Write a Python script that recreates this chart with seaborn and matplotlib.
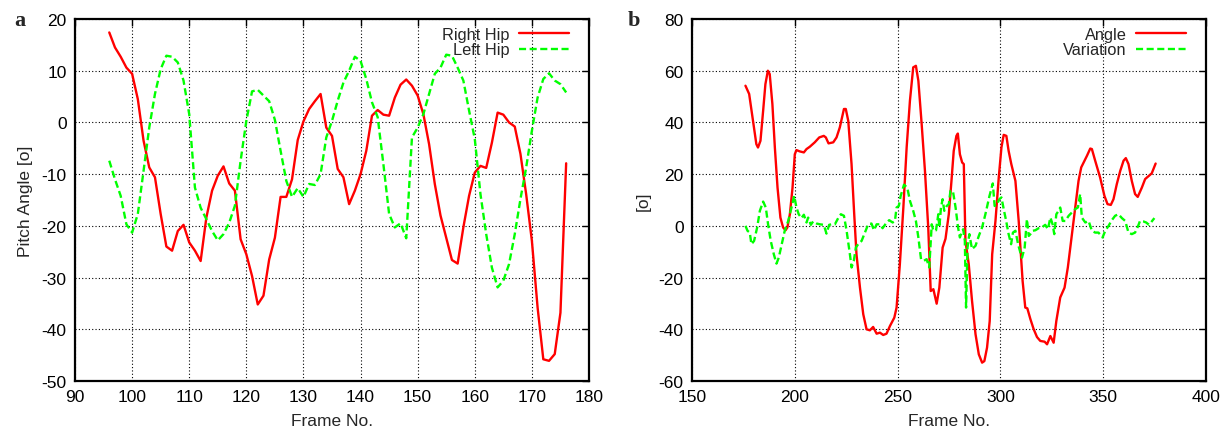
import numpy as np
import pandas as pd
import matplotlib
matplotlib.use("Agg")
import matplotlib.pyplot as plt
import seaborn as sns

# ---------------- Panel a data ----------------
frames_a = list(range(96, 177))
right_hip = [17.4, 14.5, 12.7, 10.6, 9.4, 4.5, -3.5, -8.7, -10.6, -17.7,
             -24.0, -24.8, -21.0, -19.8, -23.2, -24.8, -26.8, -18.4, -13.2, -10.3,
             -8.5, -11.8, -13.2, -22.6, -25.5, -29.7, -35.2, -33.5, -26.5, -22.3,
             -14.4, -14.4, -11.0, -3.4, 0.2, 2.6, 4.1, 5.5, -1.0, -2.6,
             -9.0, -10.6, -15.8, -13.2, -10.0, -5.5, 1.3, 2.4, 1.5, 1.3,
             4.8, 7.3, 8.3, 7.1, 5.2, 1.6, -4.2, -11.9, -18.0, -22.3,
             -26.6, -27.3, -20.3, -14.2, -9.7, -8.4, -8.8, -3.9, 1.9, 1.5,
             0.0, -0.8, -6.1, -13.9, -22.9, -35.8, -45.8, -46.1, -44.8, -36.8,
             -7.9]
left_hip = [-7.4, -11.0, -14.2, -19.7, -21.3, -17.7, -9.4, -1.0, 5.5, 10.3,
            12.9, 12.7, 11.6, 8.1, 1.6, -12.6, -16.5, -18.7, -21.0, -22.8,
            -21.6, -19.4, -16.1, -7.4, 0.3, 6.0, 6.3, 5.2, 4.1, 0.5,
            -5.5, -11.3, -14.4, -12.7, -14.4, -11.9, -12.1, -10.0, -2.9, 0.3,
            4.2, 7.7, 10.0, 12.7, 11.9, 8.4, 3.9, 1.0, -8.1, -17.7,
            -20.3, -19.5, -22.4, -2.9, -1.0, 1.6, 5.5, 9.4, 10.6, 13.1,
            12.9, 10.6, 8.1, 2.3, -3.2, -13.9, -21.6, -28.1, -31.9, -30.6,
            -27.4, -21.6, -14.8, -8.7, -1.6, 4.8, 8.4, 9.5, 8.1, 7.4,
            5.8]

# ---------------- Panel b data ----------------
angle_frames = [176.0, 177.8, 179.7, 181.3, 182.1, 183.3, 184.6, 185.7, 186.9, 187.8,
                189.1, 190.3, 191.6, 193.0, 194.3, 195.5, 196.4, 197.6, 198.9, 200.0,
                200.8, 202.4, 204.4, 205.7, 207.3, 209.7, 211.9, 214.1, 215.1, 216.4,
                218.7, 220.3, 221.9, 223.9, 224.8, 226.0, 227.6, 228.9, 230.0, 231.7,
                233.3, 234.9, 236.5, 238.1, 239.8, 241.4, 243.0, 244.6, 246.3, 248.4,
                249.5, 251.1, 252.8, 254.4, 256.0, 257.6, 258.9, 260.1, 261.7, 263.3,
                264.9, 266.1, 267.4, 269.0, 270.3, 271.9, 273.3, 274.9, 276.2, 277.3,
                278.6, 279.3, 280.3, 281.4, 282.2, 283.0, 284.6, 286.2, 287.9, 289.5,
                291.1, 292.2, 293.5, 294.8, 296.0, 297.6, 299.2, 300.5, 301.6, 302.9,
                304.0, 305.3, 307.3, 308.9, 310.8, 312.1, 313.1, 314.6, 316.2, 317.8,
                319.4, 321.5, 322.7, 324.3, 325.9, 327.2, 329.1, 331.2, 332.8, 334.8,
                336.4, 338.0, 339.3, 340.5, 342.1, 343.7, 344.5, 346.1, 348.5, 350.6,
                352.1, 353.7, 355.0, 356.6, 358.3, 359.9, 361.0, 362.3, 363.9, 365.5,
                366.8, 368.8, 370.4, 372.3, 373.6, 375.5]
angle_vals = [54.2, 51.0, 40.6, 31.6, 30.3, 32.9, 44.5, 54.8, 60.0, 58.7,
              47.1, 30.3, 14.8, 3.2, -0.6, -1.7, -0.6, 4.5, 14.8, 27.7,
              29.3, 28.8, 28.4, 29.7, 30.6, 32.3, 34.2, 34.8, 34.2, 31.9,
              32.3, 34.2, 38.1, 45.2, 45.2, 40.6, 23.9, 4.5, -11.0, -23.9,
              -34.2, -40.0, -40.4, -39.1, -41.7, -41.3, -42.2, -41.7, -38.7, -35.5,
              -31.6, -14.8, 7.1, 30.3, 48.4, 61.3, 61.9, 56.1, 39.4, 21.3,
              -0.6, -25.2, -24.5, -30.1, -23.9, -8.4, -5.0, 4.5, 17.4, 29.0,
              34.8, 35.7, 27.7, 24.5, 23.9, -5.8, -14.8, -29.0, -41.9, -49.7,
              -52.9, -52.3, -47.1, -36.8, -11.0, 1.9, 18.7, 30.3, 35.2, 34.8,
              29.0, 23.9, 17.4, 1.9, -21.3, -31.6, -31.9, -36.1, -40.0, -43.0,
              -44.5, -44.8, -45.8, -42.6, -45.2, -36.8, -27.7, -23.9, -16.1, -3.2,
              7.1, 17.4, 22.6, 24.5, 27.1, 29.9, 29.7, 25.2, 18.7, 11.6,
              8.4, 8.1, 10.3, 16.1, 21.3, 25.2, 26.2, 23.9, 17.4, 12.3,
              11.2, 14.8, 18.1, 19.4, 20.3, 24.1]

var_frames = [176.0, 177.0, 178.1, 178.9, 180.2, 181.7, 183.0, 184.6, 185.9, 187.0,
              188.3, 189.8, 191.1, 192.2, 193.5, 195.1, 196.8, 198.4, 199.7, 200.8,
              201.9, 203.2, 204.4, 205.7, 206.5, 207.8, 208.9, 210.6, 212.2, 214.1,
              215.4, 216.7, 217.9, 219.5, 221.1, 222.4, 223.9, 225.2, 226.8, 227.6,
              228.7, 229.7, 230.8, 232.5, 234.1, 235.7, 237.3, 238.5, 239.8, 241.4,
              242.7, 244.3, 245.9, 247.6, 248.7, 249.5, 250.6, 251.5, 253.1, 254.7,
              256.0, 257.6, 258.9, 260.1, 261.4, 262.8, 264.1, 265.4, 266.6, 267.4,
              268.7, 269.8, 270.3, 271.1, 271.9, 272.7, 273.9, 274.9, 275.7, 276.9,
              278.2, 279.4, 280.3, 281.1, 281.9, 282.7, 283.3, 284.0, 284.9, 286.2,
              287.9, 289.5, 291.1, 292.7, 294.7, 296.3, 297.2, 298.4, 299.5, 300.5,
              301.6, 302.8, 304.0, 305.2, 306.1, 307.3, 308.6, 309.7, 310.5, 311.8,
              312.9, 313.8, 314.6, 315.7, 317.0, 318.6, 320.2, 321.8, 323.1, 324.3,
              325.4, 326.2, 327.2, 328.3, 329.1, 330.3, 331.6, 333.2, 334.8, 336.4,
              337.7, 338.8, 339.6, 341.3, 342.9, 344.5, 346.1, 347.7, 349.7, 351.0,
              352.6, 354.2, 355.8, 357.4, 359.1, 360.7, 362.3, 363.9, 365.5, 366.8,
              367.9, 369.6, 370.9, 372.3, 373.6, 374.9]
var_vals = [0.0, -1.9, -2.6, -7.1, -5.8, -0.6, 5.8, 9.4, 7.1, 0.6,
            -5.8, -11.0, -14.6, -12.3, -7.7, -1.9, 1.9, 7.1, 11.6, 7.1,
            4.5, 3.0, 4.3, 1.3, 3.2, 0.4, 1.7, 0.9, 0.6, 0.4,
            -3.0, 0.4, 0.6, 0.6, 3.0, 4.5, 3.9, -1.9, -11.0, -16.1,
            -13.5, -8.4, -7.1, -5.8, -2.6, 0.6, 0.9, -1.7, 0.6, 0.6,
            -0.9, 0.9, 2.2, 1.3, 1.9, 7.1, 7.7, 11.6, 15.9, 14.8,
            9.7, 5.8, 1.9, -4.5, -12.9, -13.5, -12.9, -16.1, 0.6, -1.9,
            -1.7, 4.5, -0.6, 7.1, 10.3, 5.8, 7.7, 8.4, 13.5, 13.5,
            7.1, -0.6, -4.5, -2.6, -1.3, -5.8, -31.6, -8.4, -3.2, -9.0,
            -7.7, -3.9, -0.6, 4.5, 11.6, 16.4, 7.7, 8.4, 10.3, 11.0,
            6.5, 1.9, -3.2, -7.1, -2.6, -1.9, -7.1, -10.3, -12.3, -8.4,
            2.6, -3.9, -3.2, -1.9, -1.7, -0.9, -0.6, 0.4, -1.3, 3.2,
            0.6, -3.2, 4.5, 5.8, 7.1, 1.9, 1.9, 3.9, 5.2, 6.5,
            7.1, 12.3, 3.2, 1.3, 1.9, -1.9, -2.6, -2.6, -4.5, -1.9,
            0.0, 2.2, 3.9, 4.5, 3.0, 1.9, -2.6, -3.2, -2.6, -0.4,
            1.9, 1.7, 1.3, 0.4, 1.7, 3.0]

xticks_a = [90, 100, 110, 120, 130, 140, 150, 160, 170, 180]
yticks_a = [-50, -40, -30, -20, -10, 0, 10, 20]
xticks_b = [150, 200, 250, 300, 350, 400]
yticks_b = [-60, -40, -20, 0, 20, 40, 60, 80]

sns.set_theme(style="white")
plt.rcParams['font.family'] = ['Liberation Sans', 'DejaVu Sans']
plt.rcParams['axes.linewidth'] = 1.6
plt.rcParams['axes.edgecolor'] = 'black'

fig = plt.figure(figsize=(12.3, 4.31), dpi=100)
ax_a = fig.add_axes([75/1230, 49/431, 514/1230, 362/431])
ax_b = fig.add_axes([692/1230, 49/431, 514/1230, 362/431])

df_a = pd.DataFrame({"frame": frames_a, "right": right_hip, "left": left_hip})
sns.lineplot(data=df_a, x="frame", y="right", ax=ax_a, color="#ff0000",
             linewidth=1.7, label="Right Hip")
sns.lineplot(data=df_a, x="frame", y="left", ax=ax_a, color="#00ff00",
             linewidth=1.7, label="Left Hip")
ax_a.lines[1].set_dashes((3, 1.5))

df_b1 = pd.DataFrame({"frame": angle_frames, "val": angle_vals})
df_b2 = pd.DataFrame({"frame": var_frames, "val": var_vals})
sns.lineplot(data=df_b1, x="frame", y="val", ax=ax_b, color="#ff0000",
             linewidth=1.7, label="Angle", sort=False)
sns.lineplot(data=df_b2, x="frame", y="val", ax=ax_b, color="#00ff00",
             linewidth=1.7, label="Variation", sort=False)
ax_b.lines[1].set_dashes((3, 1.5))

for ax, xt, yt, ylab in [(ax_a, xticks_a, yticks_a, "Pitch Angle [o]"),
                         (ax_b, xticks_b, yticks_b, "[o]")]:
    ax.set_xlim(xt[0], xt[-1])
    ax.set_ylim(yt[0], yt[-1])
    ax.set_xticks(xt)
    ax.set_yticks(yt)
    ax.set_xticklabels([str(v) for v in xt])
    ax.set_yticklabels([str(v) for v in yt])
    ax.grid(True, linestyle=(0, (1, 2)), color="black", linewidth=0.8)
    ax.set_axisbelow(True)
    ax.tick_params(direction="in", length=5, width=1.0, top=True, right=True,
                   labelsize=12.5, colors="black", pad=6)
    ax.set_xlabel("Frame No.", fontsize=12.5, labelpad=6)
    ax.set_ylabel(ylab, fontsize=12.5, labelpad=6)
    for s in ax.spines.values():
        s.set_visible(True)
        s.set_linewidth(1.6)
    leg = ax.legend(loc="upper right", bbox_to_anchor=(0.973, 0.997),
                    frameon=False, markerfirst=False,
                    fontsize=11.8, handlelength=3.0, handletextpad=0.6,
                    labelspacing=0.05, borderaxespad=0.0)
    for h in leg.get_lines():
        h.set_linewidth(1.7)
    leg.get_lines()[1].set_dashes((3, 1.5))

fig.text(14/1230, 1 - 21/431, "a", fontsize=16, fontweight="bold",
         family="Liberation Serif", ha="left", va="center")
fig.text(628/1230, 1 - 21/431, "b", fontsize=16, fontweight="bold",
         family="Liberation Serif", ha="left", va="center")

fig.savefig("out.png", dpi=100)
